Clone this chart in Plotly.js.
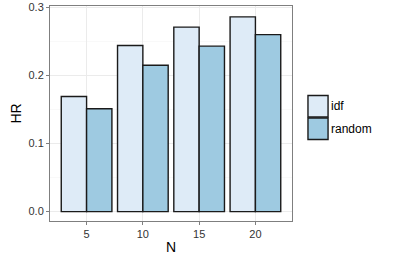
<!DOCTYPE html>
<html>
<head>
<meta charset="utf-8">
<script src="https://cdn.plot.ly/plotly-3.0.1.min.js"></script>
<style>html,body{margin:0;padding:0;background:#fff;}#chart{width:395px;height:263px;}</style>
</head>
<body>
<div id="chart"></div>
<script>
const categories = ["5", "10", "15", "20"];
const seriesNames = ["idf", "random"];
const idfValues = [0.169, 0.244, 0.271, 0.286];
const randomValues = [0.151, 0.215, 0.243, 0.260];
const yTicks = [0, 0.1, 0.2, 0.3];
const seriesColors = ["#deebf7", "#9ecae1"];

const font = "Liberation Sans, Arial, sans-serif";
const tickColor = "#333333";
const traces = [idfValues, randomValues].map((vals, i) => ({
  type: "bar",
  name: seriesNames[i],
  x: categories,
  y: vals,
  marker: {color: seriesColors[i], line: {color: "#1a1a1a", width: 1.4}},
  showlegend: false,
  hoverinfo: "none"
}));

// legend drawn as shapes + text in paper coords
const shapes = [];
const annotations = [];
const keyX0 = 1.066, keyX1 = 1.149;
const keyTops = [0.584, 0.479];
const keyH = 0.1;
seriesNames.forEach((n, i) => {
  shapes.push({type: "rect", xref: "paper", yref: "paper",
    x0: keyX0, x1: keyX1, y0: keyTops[i] - keyH, y1: keyTops[i],
    fillcolor: seriesColors[i], line: {color: "#1a1a1a", width: 1.4}});
  annotations.push({xref: "paper", yref: "paper", x: keyX1 + 0.004, y: keyTops[i] - keyH / 2,
    text: n, showarrow: false, xanchor: "left", yanchor: "middle",
    font: {family: font, size: 12, color: "#000"}});
});

const layout = {
  width: 395, height: 263,
  margin: {l: 50, r: 103, t: 6, b: 42, pad: 0},
  paper_bgcolor: "#fff", plot_bgcolor: "#fff",
  barmode: "group", bargap: 0.1, bargroupgap: 0,
  font: {family: font, size: 11, color: tickColor},
  xaxis: {
    type: "category", range: [-0.65, 3.65],
    showgrid: true, gridcolor: "#ebebeb", gridwidth: 1,
    ticks: "outside", ticklen: 3, tickcolor: "#7f7f7f", tickwidth: 1,
    showline: true, linecolor: "#7f7f7f", linewidth: 1, mirror: true,
    zeroline: false,
    tickfont: {family: font, size: 11, color: tickColor},
    title: {text: "N", font: {family: font, size: 14, color: "#000"}, standoff: 2}
  },
  yaxis: {
    range: [-0.0138, 0.302],
    tickvals: yTicks, tickformat: ".1f",
    showgrid: true, gridcolor: "#ebebeb", gridwidth: 1,
    minor: {dtick: 0.05, showgrid: true, gridcolor: "#f5f5f5", gridwidth: 0.6, ticks: ""},
    ticks: "outside", ticklen: 3, tickcolor: "#7f7f7f", tickwidth: 1,
    showline: true, linecolor: "#7f7f7f", linewidth: 1, mirror: true,
    zeroline: false,
    tickfont: {family: font, size: 11, color: tickColor},
    title: {text: "HR", font: {family: font, size: 14, color: "#000"}, standoff: 3}
  },
  shapes: shapes,
  annotations: annotations,
  showlegend: false
};

Plotly.newPlot("chart", traces, layout, {staticPlot: true, displayModeBar: false});
</script>
</body>
</html>
